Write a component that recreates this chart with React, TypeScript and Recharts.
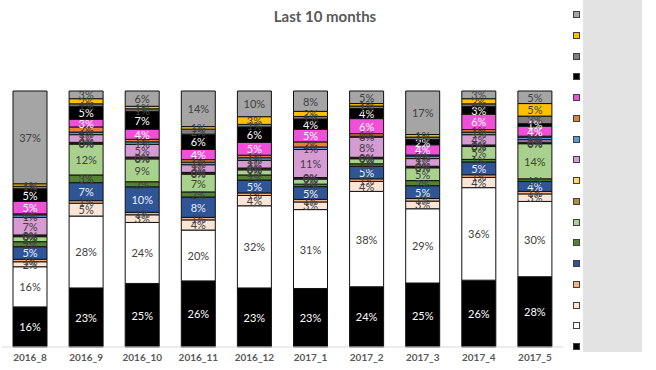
import { Bar, BarChart, LabelList, XAxis, YAxis } from "recharts";

const months = ["2016_8", "2016_9", "2016_10", "2016_11", "2016_12", "2017_1", "2017_2", "2017_3", "2017_4", "2017_5"];

// shares per month, bottom of the stack first
const bottomBlack = [16, 23, 25, 26, 23, 23, 24, 25, 26, 28];
const white = [16, 28, 24, 20, 32, 31, 38, 29, 36, 30];
const peach = [2, 5, 3, 4, 4, 3, 4, 3, 4, 3];
const tan = [1, 1, 1, 1, 1, 1, 1, 1, 1, 1];
const navy = [5, 7, 10, 8, 5, 5, 5, 5, 5, 4];
const darkGreen = [2, 3, 2, 2, 2, 1, 1, 2, 1, 1];
const lightGreen = [2, 12, 9, 7, 2, 2, 2, 5, 5, 14];
const brown = [0.4, 0.4, 0.4, 0.4, 0.4, 0.3, 0.3, 0.3, 0.3, 0.3];
const lightYellow = [0.3, 0.3, 0.3, 0.3, 0.3, 0.3, 0.3, 0.3, 0.3, 0.3];
const lavender = [7, 3, 5, 3, 3, 11, 8, 3, 4, 1];
const skyBlue = [1, 1, 1, 1, 1, 1, 0.4, 1, 1, 1];
const orange = [0.4, 2, 1, 1, 1, 2, 1, 0.4, 1, 0.4];
const magenta = [5, 3, 4, 4, 5, 5, 6, 4, 6, 4];
const topBlack = [5, 5, 7, 6, 6, 4, 4, 2, 3, 1];
const darkGray = [1, 1, 1, 2, 1, 1, 1, 1, 1, 3];
const gold = [1, 2, 1, 1, 3, 2, 1, 1, 2, 5];
const lightGray = [37, 3, 6, 14, 10, 8, 5, 17, 3, 5];

const series = [
  { key: "bottomBlack", values: bottomBlack, fill: "#000000", text: "#ffffff" },
  { key: "white", values: white, fill: "#ffffff", text: "#404040" },
  { key: "peach", values: peach, fill: "#fbe5d6", text: "#404040" },
  { key: "tan", values: tan, fill: "#f4b183", text: "#404040" },
  { key: "navy", values: navy, fill: "#2f5597", text: "#e8efff" },
  { key: "darkGreen", values: darkGreen, fill: "#548235", text: "#404040" },
  { key: "lightGreen", values: lightGreen, fill: "#a9d18e", text: "#404040" },
  { key: "brown", values: brown, fill: "#b08d3c", text: "#404040" },
  { key: "lightYellow", values: lightYellow, fill: "#ffd966", text: "#404040" },
  { key: "lavender", values: lavender, fill: "#d69bd3", text: "#404040" },
  { key: "skyBlue", values: skyBlue, fill: "#5b9bd5", text: "#404040" },
  { key: "orange", values: orange, fill: "#ed7d31", text: "#404040" },
  { key: "magenta", values: magenta, fill: "#f04fd8", text: "#ffffff" },
  { key: "topBlack", values: topBlack, fill: "#000000", text: "#ffffff" },
  { key: "darkGray", values: darkGray, fill: "#7f7f7f", text: "#404040" },
  { key: "gold", values: gold, fill: "#ffc000", text: "#404040" },
  { key: "lightGray", values: lightGray, fill: "#a5a5a5", text: "#404040" },
];

const data = months.map((m, i) => {
  const row: Record<string, number | string> = { month: m };
  series.forEach((s) => (row[s.key] = s.values[i]));
  return row;
});

const font = "Lato, 'Open Sans', sans-serif";

const makeLabel = (color: string) => (props: any) => {
  const { x, y, width, height, value } = props;
  if (!value || value <= 0) return null;
  return (
    <text
      x={x + width / 2}
      y={y + height / 2}
      textAnchor="middle"
      dominantBaseline="central"
      fill={color}
      fontSize={11}
      fontFamily={font}
    >
      {Math.round(value)}%
    </text>
  );
};

export default function App() {
  return (
    <div style={{ position: "absolute", left: 0, top: 0, width: 656, height: 370, background: "#fff", fontFamily: font }}>
      <div
        style={{
          position: "absolute",
          left: 0,
          width: 650,
          top: 7,
          textAlign: "center",
          fontSize: 15,
          fontWeight: 700,
          color: "#595959",
        }}
      >
        Last 10 months
      </div>
      <div style={{ position: "absolute", left: 583, top: 0, width: 59, height: 352, background: "#e4e3e4" }} />
      {[...series].reverse().map((s, i) => (
        <div
          key={s.key}
          style={{
            position: "absolute",
            left: 573,
            top: 11 + i * 20.75,
            width: 5,
            height: 5,
            background: s.fill,
            border: "1px solid #404040",
          }}
        />
      ))}
      <BarChart
        width={656}
        height={370}
        data={data}
        stackOffset="expand"
        barSize={34}
        margin={{ top: 91, right: 93, bottom: 8, left: 2 }}
        style={{ position: "absolute", left: 0, top: 0 }}
      >
        <XAxis
          dataKey="month"
          height={15}
          axisLine={{ stroke: "#d9d9d9" }}
          tickLine={false}
          tick={{ fill: "#595959", fontSize: 10, fontWeight: 700, fontFamily: font }}
          dy={-1}
        />
        <YAxis hide domain={[0, 1]} />
        {series.map((s) => (
          <Bar
            key={s.key}
            dataKey={s.key}
            stackId="a"
            fill={s.fill}
            stroke="#111"
            strokeWidth={1}
            isAnimationActive={false}
          >
            <LabelList dataKey={s.key} content={makeLabel(s.text)} />
          </Bar>
        ))}
      </BarChart>
    </div>
  );
}
